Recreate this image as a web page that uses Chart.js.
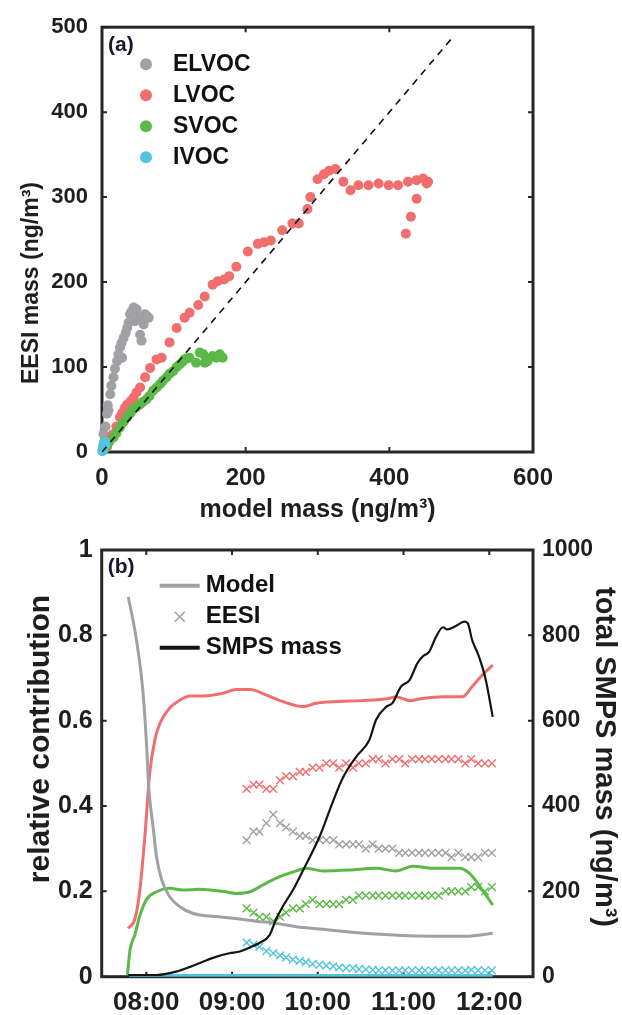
<!DOCTYPE html>
<html>
<head>
<meta charset="utf-8">
<script src="https://cdn.jsdelivr.net/npm/chart.js@4.4.1/dist/chart.umd.min.js"></script>
<style>
  html, body { margin: 0; padding: 0; background: #fff; }
  #wrap { position: relative; width: 622px; height: 1015px; }
  canvas { position: absolute; left: 0; }
  #chartA { top: 0; width: 622px; height: 525px; }
  #chartB { top: 525px; width: 622px; height: 490px; }
</style>
</head>
<body>
<div id="wrap">
  <canvas id="chartA" width="622" height="525"></canvas>
  <canvas id="chartB" width="622" height="490"></canvas>
</div>
<script>
// ---- panel (a): EESI mass vs model mass (ng/m3) ----
const elvocX = [1, 2, 3, 5, 7, 8, 9, 11.5, 13, 16, 18, 21, 23, 25, 27, 28, 30, 33, 35, 37, 39, 41, 44, 46, 48, 46, 53, 55, 53, 58, 60, 62, 65];
const elvocY = [5, 21, 12, 30, 45, 55, 49, 68, 78, 88, 98, 107, 115, 123, 128, 111, 134, 140, 146, 152, 162, 165, 170, 166, 168, 154, 158, 131, 138, 150, 162, 160, 158];

const lvocX = [2, 4, 7, 10, 14, 16, 20, 25, 28, 32, 35, 40, 44, 48, 53, 60, 67, 76, 83, 94, 104, 115, 122, 134, 143, 154, 161, 170, 177, 187, 203, 217, 226, 235, 251, 265, 274, 286, 290, 300, 309, 316, 325, 336, 346, 357, 371, 385, 399, 412, 426, 438, 447, 454, 452, 438, 430, 423];
const lvocY = [2, 6, 6, 14, 20, 21, 30, 41, 46, 52, 56, 60, 64, 70, 76, 88, 99, 109, 111, 129, 146, 158, 164, 173, 183, 197, 201, 203, 207, 218, 236, 245, 247, 249, 261, 269, 269, 286, 300, 321, 327, 331, 333, 318, 308, 314, 314, 316, 314, 314, 318, 320, 322, 318, 316, 298, 277, 257];

const svocX = [3, 7, 10, 16, 20, 25, 30, 35, 40, 44, 48, 53, 57, 62, 66, 71, 76, 81, 85, 90, 94, 99, 104, 108, 112, 115, 118, 122, 131, 136, 141, 143, 147, 154, 159, 164, 168];
const svocY = [3, 8, 12, 17, 22, 29, 35, 41, 46, 51, 53, 56, 59, 62, 66, 72, 76, 80, 84, 88, 92, 95, 100, 103, 106, 109, 110, 111, 105, 117, 115, 105, 107, 113, 111, 115, 111];

const ivocX = [0.5, 1, 1.5, 2, 2.5, 3, 4, 5];
const ivocY = [1, 3, 6, 8, 5, 10, 12, 9];

const oneToOne = [0, 490];
const legendA = ['ELVOC', 'LVOC', 'SVOC', 'IVOC'];

// ---- panel (b): relative contribution vs time (decimal hours) ----
const elvocModelT = [7.79, 7.85, 7.90, 7.96, 8.00, 8.03, 8.08, 8.12, 8.18, 8.27, 8.39, 8.55, 8.74, 9.01, 9.28, 9.52, 9.75, 10.06, 10.37, 10.68, 11.07, 11.42, 11.73, 12.04];
const elvocModel  = [0.89, 0.83, 0.77, 0.67, 0.555, 0.44, 0.35, 0.28, 0.227, 0.188, 0.164, 0.148, 0.142, 0.137, 0.130, 0.125, 0.117, 0.111, 0.105, 0.100, 0.096, 0.095, 0.095, 0.102];

const lvocModelT = [7.79, 7.87, 7.92, 7.98, 8.04, 8.10, 8.16, 8.27, 8.39, 8.51, 8.66, 8.89, 9.05, 9.21, 9.40, 9.59, 9.83, 9.98, 10.25, 10.52, 10.83, 10.91, 11.07, 11.22, 11.46, 11.69, 11.80, 11.92, 12.04];
const lvocModel  = [0.113, 0.137, 0.195, 0.32, 0.477, 0.555, 0.594, 0.629, 0.648, 0.658, 0.658, 0.664, 0.673, 0.673, 0.66, 0.645, 0.633, 0.641, 0.645, 0.647, 0.652, 0.656, 0.647, 0.652, 0.656, 0.656, 0.68, 0.707, 0.73];

const svocModelT = [7.78, 7.81, 7.87, 7.92, 8.00, 8.12, 8.27, 8.43, 8.62, 8.89, 9.05, 9.21, 9.36, 9.55, 9.75, 9.86, 10.06, 10.37, 10.68, 10.91, 11.11, 11.34, 11.65, 11.77, 11.92, 12.04];
const svocModel  = [0.004, 0.062, 0.10, 0.14, 0.18, 0.199, 0.207, 0.203, 0.205, 0.20, 0.195, 0.199, 0.215, 0.234, 0.248, 0.254, 0.248, 0.25, 0.254, 0.248, 0.259, 0.254, 0.254, 0.242, 0.203, 0.168];

const ivocModelT = [7.80, 8.50, 9.50, 10.50, 11.50, 12.04];
const ivocModel  = [0.002, 0.003, 0.003, 0.003, 0.003, 0.003];

const eesiT = [9.17, 9.25, 9.32, 9.40, 9.48, 9.56, 9.63, 9.71, 9.79, 9.86,
               9.94, 10.02, 10.10, 10.18, 10.25, 10.33, 10.41, 10.48, 10.56, 10.64,
               10.71, 10.79, 10.87, 10.95, 11.02, 11.10, 11.18, 11.25, 11.33, 11.41,
               11.49, 11.56, 11.64, 11.72, 11.79, 11.87, 11.95, 12.03];
const elvocEesi = [0.32, 0.34, 0.34, 0.36, 0.38, 0.36, 0.35, 0.34, 0.33, 0.33,
                   0.32, 0.32, 0.32, 0.32, 0.31, 0.31, 0.31, 0.31, 0.30, 0.31,
                   0.30, 0.30, 0.30, 0.29, 0.29, 0.29, 0.29, 0.29, 0.29, 0.29,
                   0.29, 0.28, 0.29, 0.28, 0.28, 0.28, 0.29, 0.29];
const lvocEesi = [0.44, 0.45, 0.45, 0.44, 0.44, 0.46, 0.47, 0.47, 0.48, 0.48,
                  0.49, 0.49, 0.50, 0.50, 0.49, 0.50, 0.49, 0.50, 0.50, 0.51,
                  0.51, 0.50, 0.51, 0.51, 0.50, 0.51, 0.51, 0.51, 0.51, 0.51,
                  0.51, 0.51, 0.51, 0.50, 0.51, 0.50, 0.50, 0.50];
const svocEesi = [0.16, 0.15, 0.14, 0.14, 0.13, 0.14, 0.15, 0.16, 0.16, 0.17,
                  0.18, 0.17, 0.17, 0.17, 0.17, 0.18, 0.18, 0.19, 0.19, 0.19,
                  0.19, 0.19, 0.19, 0.19, 0.19, 0.19, 0.19, 0.19, 0.19, 0.19,
                  0.20, 0.20, 0.20, 0.20, 0.21, 0.21, 0.20, 0.21];
const ivocEesi = [0.08, 0.075, 0.07, 0.06, 0.055, 0.05, 0.045, 0.04, 0.037, 0.034,
                  0.03, 0.028, 0.026, 0.024, 0.022, 0.02, 0.02, 0.018, 0.017, 0.016,
                  0.015, 0.015, 0.015, 0.015, 0.015, 0.015, 0.015, 0.015, 0.015, 0.015,
                  0.015, 0.015, 0.015, 0.015, 0.016, 0.015, 0.015, 0.015];

const smpsT = [7.79, 8.12, 8.35, 8.51, 8.66, 8.82, 8.97, 9.09, 9.20, 9.32, 9.44, 9.51, 9.59, 9.71, 9.83, 10.02, 10.17, 10.29, 10.45, 10.60, 10.68, 10.80, 10.87, 10.97, 11.07, 11.16, 11.22, 11.30, 11.38, 11.46, 11.51, 11.61, 11.71, 11.75, 11.80, 11.88, 11.96, 12.04];
const smpsMass = [4, 4, 12, 23, 35, 47, 55, 59, 68, 79, 98, 133, 164, 203, 250, 328, 407, 465, 516, 554, 602, 633, 641, 680, 695, 734, 750, 762, 797, 819, 814, 822, 832, 828, 789, 750, 695, 609];

const timeTicks = [8, 9, 10, 11, 12];
const timeLabels = ['08:00', '09:00', '10:00', '11:00', '12:00'];
const legendB = ['Model', 'EESI', 'SMPS mass'];

const colors = { elvoc: '#a0a1a5', lvoc: '#f06e6e', svoc: '#5bb94a', ivoc: '#52c4de', smps: '#141414' };

const FONT = "'Liberation Sans', Arial, Helvetica, sans-serif";
Chart.defaults.font.family = FONT;
Chart.defaults.font.weight = 'bold';
Chart.defaults.color = '#1e1e1e';

const pairs = (xs, ys) => xs.map((x, i) => ({ x: x, y: ys[i] }));

// frame with inward ticks, panel tag, y titles and an in-plot legend
const boxPlugin = {
  id: 'box',
  beforeDatasetsDraw(chart) {
    const { ctx, chartArea: a, scales } = chart;
    ctx.save();
    ctx.strokeStyle = '#262626';
    ctx.lineWidth = 2;
    ctx.beginPath();
    scales.x.ticks.forEach(t => {
      const p = scales.x.getPixelForValue(t.value);
      ctx.moveTo(p, a.bottom); ctx.lineTo(p, a.bottom - 5);
      ctx.moveTo(p, a.top); ctx.lineTo(p, a.top + 5);
    });
    scales.y.ticks.forEach(t => {
      const p = scales.y.getPixelForValue(t.value);
      ctx.moveTo(a.left, p); ctx.lineTo(a.left + 5, p);
      ctx.moveTo(a.right, p); ctx.lineTo(a.right - 5, p);
    });
    ctx.stroke();
    ctx.lineWidth = 3;
    ctx.strokeRect(a.left, a.top, a.right - a.left, a.bottom - a.top);
    ctx.restore();
  },
  afterDraw(chart, args, o) {
    const { ctx, chartArea: a } = chart;
    ctx.save();
    ctx.textBaseline = 'middle';
    ctx.textAlign = 'left';
    ctx.fillStyle = '#16162e';
    ctx.font = 'bold 21px ' + FONT;
    ctx.fillText(o.tag, a.left + 6, a.top + o.tagDy);
    ctx.font = 'bold ' + o.size + 'px ' + FONT;
    o.items.forEach((it, i) => {
      const y = a.top + o.dy + i * o.gap;
      const mx = a.left + o.markX;
      ctx.fillStyle = it.color;
      ctx.strokeStyle = it.color;
      if (it.kind === 'dot') {
        ctx.beginPath(); ctx.arc(mx, y, 6, 0, Math.PI * 2); ctx.fill();
      } else if (it.kind === 'line') {
        ctx.lineWidth = 4;
        ctx.beginPath(); ctx.moveTo(mx - 20, y); ctx.lineTo(mx + 20, y); ctx.stroke();
      } else {
        ctx.lineWidth = 1.5;
        ctx.beginPath();
        ctx.moveTo(mx - 5, y - 5); ctx.lineTo(mx + 5, y + 5);
        ctx.moveTo(mx + 5, y - 5); ctx.lineTo(mx - 5, y + 5);
        ctx.stroke();
      }
      ctx.fillStyle = '#111';
      ctx.fillText(it.text, a.left + o.textX, y);
    });
    ctx.fillStyle = '#1e1e1e';
    ctx.textAlign = 'center';
    (o.titles || []).forEach(t => {
      ctx.save();
      ctx.translate(t.x, t.y);
      ctx.rotate(t.rot * Math.PI / 180);
      ctx.font = 'bold ' + t.size + 'px ' + FONT;
      ctx.fillText(t.text, 0, 0);
      ctx.restore();
    });
    ctx.restore();
  }
};

const dots = (label, xs, ys, color, order) => ({
  type: 'scatter', label: label, data: pairs(xs, ys), order: order,
  backgroundColor: color, borderWidth: 0, pointRadius: 5, clip: false
});

new Chart(document.getElementById('chartA'), {
  type: 'scatter',
  data: {
    datasets: [
      { type: 'line', label: '1:1', data: pairs(oneToOne, oneToOne), order: -1,
        borderColor: '#111', borderWidth: 1.6, borderDash: [7, 6], pointRadius: 0 },
      dots('IVOC', ivocX, ivocY, colors.ivoc, 0),
      dots('SVOC', svocX, svocY, colors.svoc, 1),
      dots('LVOC', lvocX, lvocY, colors.lvoc, 2),
      dots('ELVOC', elvocX, elvocY, colors.elvoc, 3)
    ]
  },
  options: {
    responsive: false,
    animation: false,
    layout: { padding: { top: 24, right: 89, left: 0, bottom: 0 } },
    plugins: {
      legend: { display: false },
      tooltip: { enabled: false },
      box: {
        tag: '(a)', tagDy: 18, size: 23, dy: 37, gap: 31, markX: 44, textX: 71,
        items: legendA.map((t, i) => ({ text: t, kind: 'dot', color: [colors.elvoc, colors.lvoc, colors.svoc, colors.ivoc][i] })),
        titles: [{ text: 'EESI mass (ng/m³)', x: 32, y: 283, rot: -90, size: 23 }]
      }
    },
    scales: {
      x: {
        type: 'linear', min: 0, max: 600,
        grid: { display: false, drawTicks: false },
        border: { display: false },
        ticks: { stepSize: 200, padding: 12, maxRotation: 0, font: { size: 24 } },
        title: { display: true, text: 'model mass (ng/m³)', font: { size: 25 }, padding: { top: 7, bottom: 0 } },
        afterFit: s => { s.height = 73; }
      },
      y: {
        type: 'linear', min: 0, max: 500,
        grid: { display: false, drawTicks: false },
        border: { display: false },
        ticks: { stepSize: 100, padding: 14, font: { size: 22 } },
        afterFit: s => { s.width = 102; }
      }
    }
  },
  plugins: [boxPlugin]
});

const model = (label, ts, vs, color) => ({
  label: label, data: pairs(ts, vs), yAxisID: 'y', order: 2,
  borderColor: color, borderWidth: 3, pointRadius: 0, cubicInterpolationMode: 'monotone', fill: false
});
const eesi = (label, vs, color) => ({
  label: label, data: pairs(eesiT, vs), yAxisID: 'y', order: 3, showLine: false,
  borderColor: color, backgroundColor: color, pointStyle: 'crossRot', pointRadius: 5.5, pointBorderWidth: 1.4
});

new Chart(document.getElementById('chartB'), {
  type: 'line',
  data: {
    datasets: [
      { label: 'SMPS mass', data: pairs(smpsT, smpsMass), yAxisID: 'y2', order: 0,
        borderColor: colors.smps, borderWidth: 2.2, pointRadius: 0, cubicInterpolationMode: 'monotone', fill: false },
      model('ELVOC model', elvocModelT, elvocModel, colors.elvoc),
      model('LVOC model', lvocModelT, lvocModel, colors.lvoc),
      model('SVOC model', svocModelT, svocModel, colors.svoc),
      model('IVOC model', ivocModelT, ivocModel, colors.ivoc),
      eesi('ELVOC EESI', elvocEesi, colors.elvoc),
      eesi('LVOC EESI', lvocEesi, colors.lvoc),
      eesi('SVOC EESI', svocEesi, colors.svoc),
      eesi('IVOC EESI', ivocEesi, colors.ivoc)
    ]
  },
  options: {
    responsive: false,
    animation: false,
    layout: { padding: { top: 25, right: 0, left: 0, bottom: 0 } },
    plugins: {
      legend: { display: false },
      tooltip: { enabled: false },
      box: {
        tag: '(b)', tagDy: 17.5, size: 24, dy: 35.7, gap: 31, markX: 78, textX: 104,
        items: [
          { text: legendB[0], kind: 'line', color: colors.elvoc },
          { text: legendB[1], kind: 'cross', color: colors.elvoc },
          { text: legendB[2], kind: 'line', color: colors.smps }
        ],
        titles: [
          { text: 'relative contribution', x: 41, y: 214, rot: -90, size: 30 },
          { text: 'total SMPS mass (ng/m³)', x: 604, y: 232, rot: 90, size: 29 }
        ]
      }
    },
    scales: {
      x: {
        type: 'linear', min: 7.48, max: 12.51,
        afterBuildTicks: s => { s.ticks = timeTicks.map(v => ({ value: v })); },
        grid: { display: false, drawTicks: false },
        border: { display: false },
        ticks: {
          padding: 11, maxRotation: 0, autoSkip: false, font: { size: 26 },
          callback: v => timeLabels[timeTicks.indexOf(v)]
        },
        afterFit: s => { s.height = 38.3; }
      },
      y: {
        type: 'linear', position: 'left', min: 0, max: 1,
        grid: { display: false, drawTicks: false },
        border: { display: false },
        ticks: { stepSize: 0.2, padding: 9, font: { size: 25 }, callback: v => String(Math.round(v * 10) / 10) },
        afterFit: s => { s.width = 101.7; }
      },
      y2: {
        type: 'linear', position: 'right', min: 0, max: 1000,
        grid: { display: false, drawTicks: false },
        border: { display: false },
        ticks: { stepSize: 200, padding: 9, font: { size: 23 }, callback: v => String(v) },
        afterFit: s => { s.width = 89; }
      }
    }
  },
  plugins: [boxPlugin]
});
</script>
</body>
</html>
